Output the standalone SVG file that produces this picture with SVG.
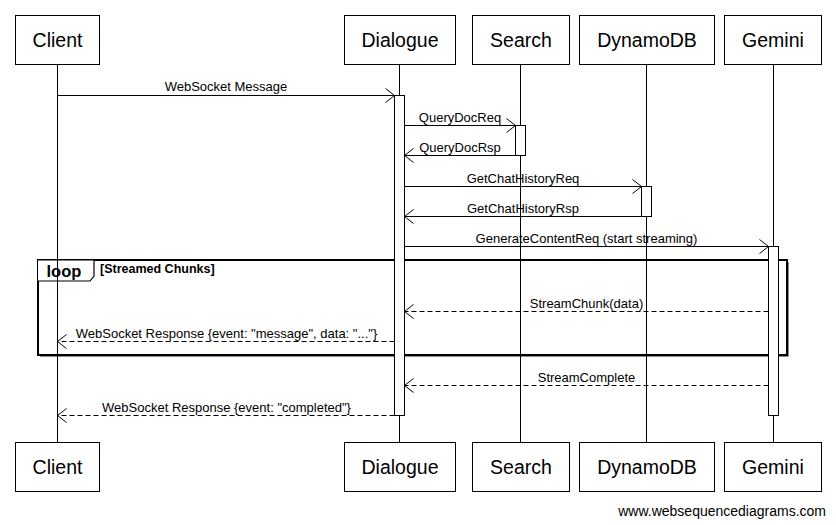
<svg xmlns="http://www.w3.org/2000/svg" width="836" height="525" viewBox="0 0 836 525">
<defs>
<style>
.box{fill:#fff;stroke:#000;stroke-width:1}
.pl{font-family:"Liberation Sans",Arial,sans-serif;font-size:19.5px;fill:#000;text-anchor:middle}
.life{stroke:#000;stroke-width:1}
.act{fill:#fff;stroke:#000;stroke-width:1}
.msg{stroke:#000;stroke-width:1;fill:none}
.dash{stroke-dasharray:5,3}
.lbl{font-family:"Liberation Sans",Arial,sans-serif;font-size:13px;fill:#000;text-anchor:middle}
</style>
<marker id="open" markerUnits="userSpaceOnUse" markerWidth="12" markerHeight="18" refX="10" refY="8" orient="auto" viewBox="0 0 12 18">
<path d="M1,1 L10,8 L1,15" fill="none" stroke="#000" stroke-width="1"/>
</marker>
</defs>
<rect width="836" height="525" fill="#fff"/>
<g id="loop">
<path d="M788.5,262 V356.5 H40" fill="none" stroke="#888" stroke-width="1"/>
<rect x="38" y="260" width="749" height="95" fill="none" stroke="#000" stroke-width="2"/>
<path d="M38,260 L94,260 L94,276 L90,281 L38,281" fill="#fff" stroke="#000" stroke-width="1.2"/>
<text x="46.5" y="276.5" font-family="'Liberation Sans',Arial,sans-serif" font-size="16.5" font-weight="bold">loop</text>
<text x="100" y="273" font-family="'Liberation Sans',Arial,sans-serif" font-size="12.5" font-weight="bold">[Streamed Chunks]</text>
</g>
<g id="lifelines">
<line class="life" x1="57.5" y1="65" x2="57.5" y2="442"/>
<line class="life" x1="399.5" y1="65" x2="399.5" y2="442"/>
<line class="life" x1="520.5" y1="65" x2="520.5" y2="442"/>
<line class="life" x1="646.5" y1="65" x2="646.5" y2="442"/>
<line class="life" x1="773.5" y1="65" x2="773.5" y2="442"/>
</g>
<g id="activations">
<rect class="act" x="394.5" y="95.5" width="10" height="320"/>
<rect class="act" x="515.5" y="125.5" width="10" height="30"/>
<rect class="act" x="641.5" y="186.5" width="10" height="30"/>
<rect class="act" x="768.5" y="246.5" width="10" height="169"/>
</g>
<g id="connectors">
<line class="msg" x1="57.5" y1="95.5" x2="394.5" y2="95.5" marker-end="url(#open)"/>
<text class="lbl" x="226" y="91">WebSocket Message</text>
<line class="msg" x1="404.5" y1="125.5" x2="515.5" y2="125.5" marker-end="url(#open)"/>
<text class="lbl" x="460" y="121.5">QueryDocReq</text>
<line class="msg" x1="515.5" y1="155.5" x2="404.5" y2="155.5" marker-end="url(#open)"/>
<text class="lbl" x="460" y="151.5">QueryDocRsp</text>
<line class="msg" x1="404.5" y1="186.5" x2="641.5" y2="186.5" marker-end="url(#open)"/>
<text class="lbl" x="523" y="182.5">GetChatHistoryReq</text>
<line class="msg" x1="641.5" y1="216.5" x2="404.5" y2="216.5" marker-end="url(#open)"/>
<text class="lbl" x="523" y="212.5">GetChatHistoryRsp</text>
<line class="msg" x1="404.5" y1="246.5" x2="768.5" y2="246.5" marker-end="url(#open)"/>
<text class="lbl" x="586.5" y="242.5">GenerateContentReq (start streaming)</text>
<line class="msg dash" x1="768.5" y1="311.5" x2="404.5" y2="311.5" marker-end="url(#open)"/>
<text class="lbl" x="586.5" y="307.5">StreamChunk(data)</text>
<line class="msg dash" x1="394.5" y1="341.5" x2="57.5" y2="341.5" marker-end="url(#open)"/>
<text class="lbl" x="226.5" y="337.5">WebSocket Response {event: "message", data: "..."}</text>
<line class="msg dash" x1="768.5" y1="385.5" x2="404.5" y2="385.5" marker-end="url(#open)"/>
<text class="lbl" x="586.5" y="381.5">StreamComplete</text>
<line class="msg dash" x1="394.5" y1="415.5" x2="57.5" y2="415.5" marker-end="url(#open)"/>
<text class="lbl" x="226.5" y="411.5">WebSocket Response {event: "completed"}</text>
</g>
<g id="node-client">
<rect class="box" x="15.5" y="15.5" width="84" height="49"/>
<text class="pl" x="57.5" y="47">Client</text>
<rect class="box" x="15.5" y="442.5" width="84" height="49"/>
<text class="pl" x="57.5" y="474">Client</text>
</g>
<g id="node-dialogue">
<rect class="box" x="344.5" y="15.5" width="111" height="49"/>
<text class="pl" x="400" y="47">Dialogue</text>
<rect class="box" x="344.5" y="442.5" width="111" height="49"/>
<text class="pl" x="400" y="474">Dialogue</text>
</g>
<g id="node-search">
<rect class="box" x="472.5" y="15.5" width="97" height="49"/>
<text class="pl" x="521" y="47">Search</text>
<rect class="box" x="472.5" y="442.5" width="97" height="49"/>
<text class="pl" x="521" y="474">Search</text>
</g>
<g id="node-dynamodb">
<rect class="box" x="579.5" y="15.5" width="135" height="49"/>
<text class="pl" x="647" y="47">DynamoDB</text>
<rect class="box" x="579.5" y="442.5" width="135" height="49"/>
<text class="pl" x="647" y="474">DynamoDB</text>
</g>
<g id="node-gemini">
<rect class="box" x="724.5" y="15.5" width="97" height="49"/>
<text class="pl" x="773" y="47">Gemini</text>
<rect class="box" x="724.5" y="442.5" width="97" height="49"/>
<text class="pl" x="773" y="474">Gemini</text>
</g>
<text x="826" y="516" font-family="'Liberation Sans',Arial,sans-serif" font-size="14" text-anchor="end">www.websequencediagrams.com</text>
</svg>
